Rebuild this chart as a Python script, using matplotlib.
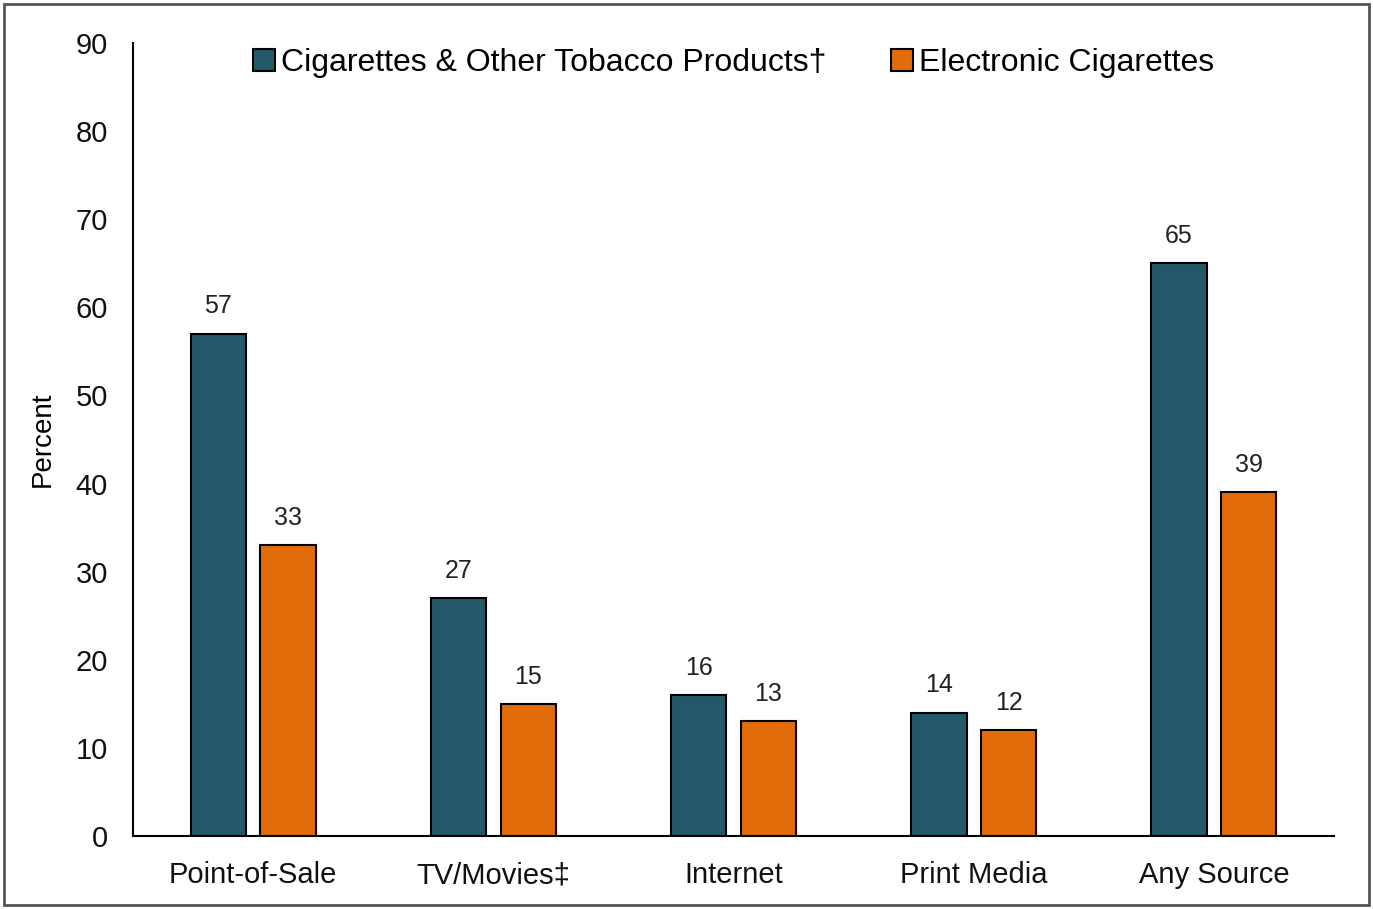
import matplotlib.pyplot as plt
from matplotlib.patches import Rectangle
import numpy as np

plt.rcParams['font.family'] = ['Liberation Sans', 'DejaVu Sans']

# 자료
sources = ["Point-of-Sale", "TV/Movies‡", "Internet", "Print Media", "Any Source"]
tobacco = [57, 27, 16, 14, 65]
ecig = [33, 15, 13, 12, 39]
y_ticks = [0, 10, 20, 30, 40, 50, 60, 70, 80, 90]

fig = plt.figure(figsize=(13.73, 9.09), dpi=100)
ax = fig.add_axes([0.0969, 0.0803, 0.8747, 0.8724])

x = np.arange(len(sources))
w = 0.23
off = 0.145

b1 = ax.bar(x - off, tobacco, w, color="#235868", edgecolor="black", linewidth=1.5,
            label="Cigarettes & Other Tobacco Products†")
b2 = ax.bar(x + off, ecig, w, color="#E36C0A", edgecolor="black", linewidth=1.5,
            label="Electronic Cigarettes")

ax.bar_label(b1, padding=11, fontsize=18, color="#222222")
ax.bar_label(b2, padding=11, fontsize=18, color="#222222")

ax.set_xlim(-0.5, 4.5)
ax.set_ylim(0, 90)
ax.set_yticks(y_ticks)
ax.set_xticks(x, sources)
ax.tick_params(axis="both", length=0, labelsize=21, colors="#111111")
ax.tick_params(axis="y", pad=18)
ax.tick_params(axis="x", pad=18)
ax.set_ylabel("Percent", fontsize=20, labelpad=14)

for s in ["top", "right"]:
    ax.spines[s].set_visible(False)
ax.spines["left"].set_linewidth(1.5)
ax.spines["bottom"].set_linewidth(1.5)

ax.legend(loc="upper center", bbox_to_anchor=(0.5, 1.03), ncol=2, frameon=False,
          fontsize=23, handlelength=0.7, handleheight=0.7, handletextpad=0.2,
          columnspacing=2.0)

# 바깥 테두리
fig.patches.append(Rectangle((0.003, 0.004), 0.994, 0.992, transform=fig.transFigure,
                             fill=False, edgecolor="#555555", linewidth=2))

fig.savefig("out.png", dpi=100)
